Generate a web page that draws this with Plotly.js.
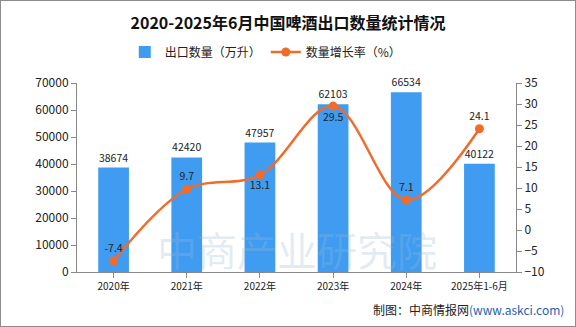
<!DOCTYPE html>
<html><head><meta charset="utf-8">
<script src="https://cdn.plot.ly/plotly-3.0.1.min.js"></script>
<style>
html,body{margin:0;padding:0;background:#fff;}
#wrap{width:576px;height:327px;box-sizing:border-box;border:1px solid #8c8c8c;overflow:hidden;}
#chart{width:574px;height:325px;}
</style></head>
<body><div id="wrap"><div id="chart"></div></div>
<script>
var categories = ['2020年','2021年','2022年','2023年','2024年','2025年1-6月'];
var exportVolume = [38674, 42420, 47957, 62103, 66534, 40122];
var growthRate = [-7.4, 9.7, 13.1, 29.5, 7.1, 24.1];
var rateLabelPos = ['top center','top center','bottom center','bottom center','top center','top center'];

var cjk = '"Noto Sans CJK SC", "Liberation Sans", sans-serif';

var traces = [
  {
    type:'bar', name:'出口数量（万升）', x:categories, y:exportVolume,
    marker:{color:'#3f9cf0'},
    text:exportVolume.map(String), textposition:'outside', cliponaxis:false,
    textfont:{size:10.5, color:'#222', family:cjk},
    hoverinfo:'x+y'
  },
  {
    type:'scatter', mode:'lines+markers+text', name:'数量增长率（%）',
    x:categories, y:growthRate, yaxis:'y2',
    line:{color:'#f26b2a', width:2.5, shape:'spline', smoothing:1},
    marker:{color:'#f26b2a', size:9},
    text:growthRate.map(function(v){return v.toFixed(1);}),
    textposition:rateLabelPos, cliponaxis:false,
    textfont:{size:10.5, color:'#222', family:cjk}
  }
];

var layout = {
  width:574, height:325,
  margin:{l:76, r:59, t:82, b:54},
  paper_bgcolor:'#fff', plot_bgcolor:'rgba(0,0,0,0)',
  font:{family:cjk, size:11, color:'#222'},
  title:{text:'<b>2020-2025年6月中国啤酒出口数量统计情况</b>', x:0.5, xanchor:'center', y:0.932, yanchor:'middle',
    font:{size:16, color:'#111', family:cjk}},
  showlegend:true,
  legend:{orientation:'h', x:0.43, xanchor:'center', y:1.164, yanchor:'middle',
    font:{size:12, family:cjk}, itemwidth:30, traceorder:'normal'},
  bargap:0.58,
  xaxis:{type:'category', showline:true, linecolor:'#888', ticks:'outside', ticklen:5, tickcolor:'#888',
    showgrid:false, tickfont:{size:10, family:cjk}},
  yaxis:{range:[0,70000], dtick:10000, tickformat:'d', showgrid:false, showline:true, linecolor:'#888', ticks:'outside',
    ticklen:5, tickcolor:'#888', tickfont:{size:12, family:cjk}, zeroline:false},
  yaxis2:{range:[-10,35], dtick:5, overlaying:'y', side:'right', showgrid:false, showline:true,
    linecolor:'#888', ticks:'outside', ticklen:5, tickcolor:'#888', tickfont:{size:12, family:cjk}, zeroline:false},
  annotations:[
    {xref:'paper', yref:'paper', x:0.5, y:0.12, text:'中商产业研究院', showarrow:false,
      font:{size:40, color:'rgba(150,185,215,0.28)', family:cjk}, xanchor:'center', yanchor:'middle'},
    {xref:'paper', yref:'paper', x:1.114, y:-0.2, xanchor:'right', yanchor:'middle', showarrow:false,
      text:'制图：中商情报网<span style="color:#1f5fae">(www.askci.com)</span>',
      font:{size:12, color:'#222', family:cjk}}
  ]
};

Plotly.newPlot('chart', traces, layout, {displayModeBar:false, staticPlot:true});
</script></body></html>
